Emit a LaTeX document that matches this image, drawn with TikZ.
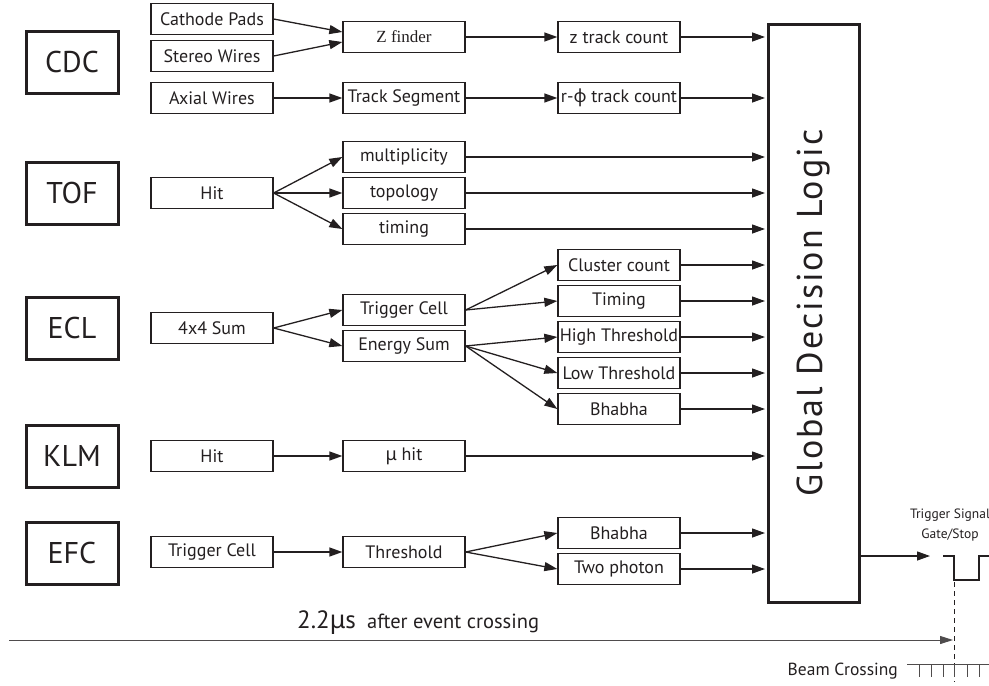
\documentclass[tikz,border=0pt]{standalone}
\usepackage{fontspec}
\setmainfont{PT Sans}
\newfontfamily\grk{Noto Sans}
\newfontfamily\serf{Liberation Serif}
\newfontfamily\gdlfont[LetterSpace=5.5]{PT Sans}
\usetikzlibrary{arrows.meta,calc}
\definecolor{ink}{HTML}{231F20}
\begin{document}
\begin{tikzpicture}[x=1pt,y=-1pt,
  every node/.style={text=ink},
  det/.style={draw=ink,line width=3pt,minimum width=92pt,minimum height=62pt,inner sep=0pt,font=\fontsize{30}{33}\selectfont},
  blk/.style={draw=ink,line width=1.3pt,minimum width=122pt,minimum height=31pt,inner sep=0pt,font=\fontsize{18}{21}\selectfont},
  arr/.style={draw=ink,line width=1.3pt,-{Triangle[length=13pt,width=9pt]}},
  thinarr/.style={draw=ink!80,line width=1pt,-{Triangle[length=13pt,width=8pt]}},
  lbl/.style={inner sep=0pt},
]
\useasboundingbox (0,0) rectangle (989,686);

% detectors
\node[det] (cdc) at (72,62) {CDC};
\node[det] (tof) at (72,193) {TOF};
\node[det] (ecl) at (72,328) {ECL};
\node[det] (klm) at (72,456) {KLM};
\node[det] (efc) at (72,553) {EFC};

% level 1
\node[blk] (cath) at (212,19) {Cathode Pads};
\node[blk] (ster) at (212,56) {Stereo Wires};
\node[blk] (axw) at (212,98) {Axial Wires};
\node[blk] (tofhit) at (212,193) {Hit};
\node[blk] (sum) at (212,328) {4x4 Sum};
\node[blk] (klmhit) at (212,456) {Hit};
\node[blk] (efctc) at (212,552) {Trigger Cell};

% level 2
\node[blk,font=\serf\fontsize{17}{20}\selectfont] (zf) at (404,37) {Z finder};
\node[blk] (tseg) at (404,98) {Track Segment};
\node[blk] (mult) at (404,157) {multiplicity};
\node[blk] (topo) at (404,193) {topology};
\node[blk] (tim) at (404,229) {timing};
\node[blk] (ecltc) at (404,310) {Trigger Cell};
\node[blk] (esum) at (404,346) {Energy Sum};
\node[blk] (muhit) at (404,456) {{\grk μ} hit};
\node[blk] (thr) at (404,552) {Threshold};

% level 3
\node[blk] (ztc) at (619,37) {z track count};
\node[blk] (rtc) at (619,98) {r-{\grk φ} track count};
\node[blk] (clc) at (619,265) {Cluster count};
\node[blk] (etim) at (619,301) {Timing};
\node[blk] (hth) at (619,337) {High Threshold};
\node[blk] (lth) at (619,373) {Low Threshold};
\node[blk] (bha) at (619,409) {Bhabha};
\node[blk] (ebha) at (619,533) {Bhabha};
\node[blk] (twop) at (619,569) {Two photon};

% global decision logic
\node[draw=ink,line width=3pt,minimum width=91pt,minimum height=578pt,inner sep=0pt] (gdl) at (813.5,313) {};
\node[rotate=90,font=\gdlfont\fontsize{36}{40}\selectfont] (gdlt) at (gdl.center) {Global Decision Logic};

% CDC
\draw[arr] (cath.east) -- ([yshift=5pt]zf.west);
\draw[arr] (ster.east) -- ([yshift=-5pt]zf.west);
\draw[arr] (axw) -- (tseg);
\draw[arr] (zf) -- (ztc);
\draw[arr] (tseg) -- (rtc);
% TOF
\draw[arr] (tofhit.east) -- (mult.west);
\draw[arr] (tofhit.east) -- (topo.west);
\draw[arr] (tofhit.east) -- (tim.west);
% ECL
\draw[arr] (sum.east) -- (ecltc.west);
\draw[arr] (sum.east) -- (esum.west);
\draw[arr] (ecltc.east) -- (clc.west);
\draw[arr] (ecltc.east) -- (etim.west);
\draw[arr] (esum.east) -- (hth.west);
\draw[arr] (esum.east) -- (lth.west);
\draw[arr] (esum.east) -- (bha.west);
% KLM
\draw[arr] (klmhit) -- (muhit);
% EFC
\draw[arr] (efctc) -- (thr);
\draw[arr] (thr.east) -- (ebha.west);
\draw[arr] (thr.east) -- (twop.west);

% into GDL
\foreach \b in {ztc,rtc,mult,topo,tim,clc,etim,hth,lth,bha,muhit,ebha,twop}
  \draw[arr,shorten >=1.5pt] (\b.east) -- (\b.east -| gdl.west);

% output
\coordinate (outp) at (930,556);
\draw[arr] (outp -| gdl.east) -- (outp);
\draw[ink,line width=1.3pt] (943,556) -- (954,556) -- (954,580) -- (979,580) -- (979,556) -- (989,556);
\node[lbl,align=center,font=\fontsize{13.5}{20}\selectfont] (ts) at (950,525) {Trigger Signal\\Gate/Stop};

% dashed marker
\draw[ink,line width=0.8pt,dash pattern=on 5pt off 4pt] (954,582) -- (954,682);

% time arrow
\coordinate (tstart) at (9,640);
\coordinate (tend) at (953,640);
\draw[thinarr] (tstart) -- (tend);
\node[lbl,anchor=base west,font=\fontsize{25}{28}\selectfont] (t22) at (297,628) {2.2{\grk μ}s};
\node[lbl,anchor=base west,font=\fontsize{20.5}{24}\selectfont] (aec) at (367,628) {after event crossing};

% beam crossing
\node[lbl,anchor=east,font=\fontsize{17.5}{20}\selectfont] (bc) at (898,671) {Beam Crossing};
\draw[ink!80,line width=0.9pt] (907,664) -- (989,664);
\foreach \x in {919,931,943,954,967,979}
  \draw[ink!80,line width=0.9pt] (\x,664) -- (\x,677);
\end{tikzpicture}
\end{document}
